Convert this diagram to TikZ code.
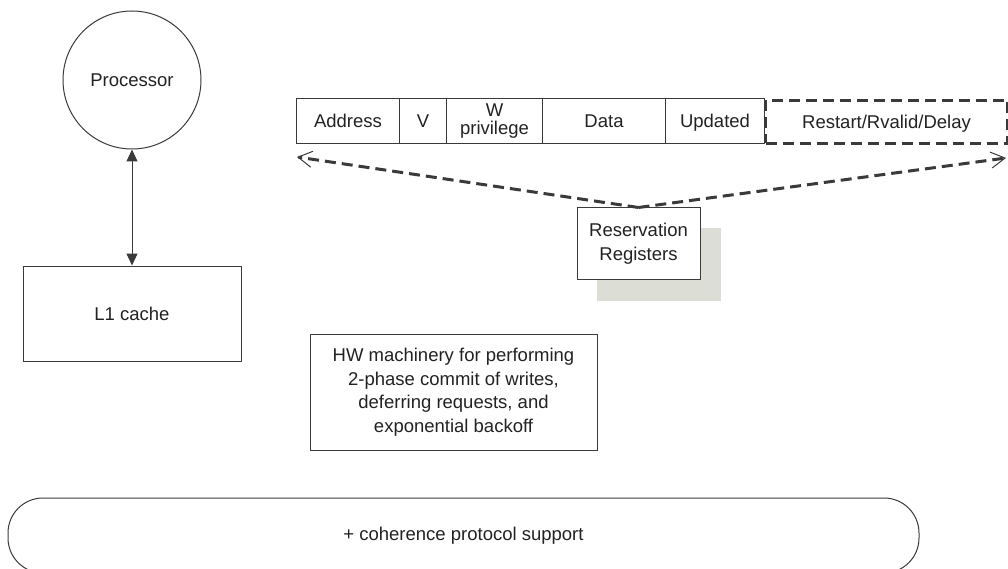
\documentclass[tikz,border=0pt]{standalone}
\usepackage{fontspec}
\setmainfont{Liberation Sans}
\usetikzlibrary{arrows.meta}
\definecolor{linegrey}{HTML}{3A3A3A}
\definecolor{inkgrey}{HTML}{222222}
\definecolor{shadegrey}{HTML}{DCDDD5}
\begin{document}
\begin{tikzpicture}[x=1pt,y=-1pt,
  font=\fontsize{18.5}{23.5}\selectfont,
  text=inkgrey,
  frame/.style={draw=linegrey,line width=1pt},
  cell/.style={frame,minimum height=45pt,inner sep=0pt,anchor=north west},
  oneline/.style={text height=13.3pt,text depth=0pt},
  heavydash/.style={draw=linegrey,line width=3pt,dash pattern=on 11pt off 6pt},
  dasharrow/.style={heavydash,-{Straight Barb[length=14pt,width=16pt,line width=1pt]}},
  solidtip/.style={{Triangle[length=12pt,width=11pt]}-{Triangle[length=12pt,width=11pt]}}
]
\useasboundingbox (0,0) rectangle (1008,569);

% processor and its cache
\node[frame,circle,minimum size=138pt,inner sep=0pt] (proc) at (132,80) {Processor};
\node[frame,minimum width=218pt,minimum height=95pt,inner sep=0pt] (l1) at (132,313.5) {L1 cache};
\draw[frame,solidtip] (proc.south) -- (l1.north);

% reservation register fields
\node[cell,oneline,minimum width=103pt] (addr) at (296,98) {Address};
\node[cell,oneline,minimum width=47pt] (valid) at (399,98) {V};
\node[cell,minimum width=96pt,align=center,font=\fontsize{18.5}{18}\selectfont] (wpriv) at (446,98) {W\\privilege};
\node[cell,oneline,minimum width=123pt] (data) at (542,98) {Data};
\node[cell,oneline,minimum width=99pt] (upd) at (665,98) {Updated};
\node[heavydash,oneline,minimum width=242pt,minimum height=43pt,inner sep=0pt,anchor=north west] (rst) at (764,99) {Restart/Rvalid/Delay};

% reservation registers with drop shadow
\fill[shadegrey] (597,228) rectangle (721,301);
\node[frame,fill=white,minimum width=123pt,minimum height=71pt,inner sep=0pt,align=center] (rr) at (638.5,243.5) {Reservation\\Registers};

\coordinate (tipL) at (297,157);
\coordinate (tipR) at (1006,158);
\draw[dasharrow] (rr.north) -- (tipL);
\draw[dasharrow] (rr.north) -- (tipR);

% commit machinery
\node[frame,minimum width=287pt,minimum height=116pt,inner sep=0pt,align=center] (hw) at (453.5,392)
  {HW machinery for performing\\2-phase commit of writes,\\deferring requests, and\\exponential backoff};

% coherence support band
\node[frame,rounded corners=35pt,minimum width=911pt,minimum height=75pt,inner sep=0pt] (coh) at (463.5,535.5)
  {+ coherence protocol support};
\end{tikzpicture}
\end{document}
